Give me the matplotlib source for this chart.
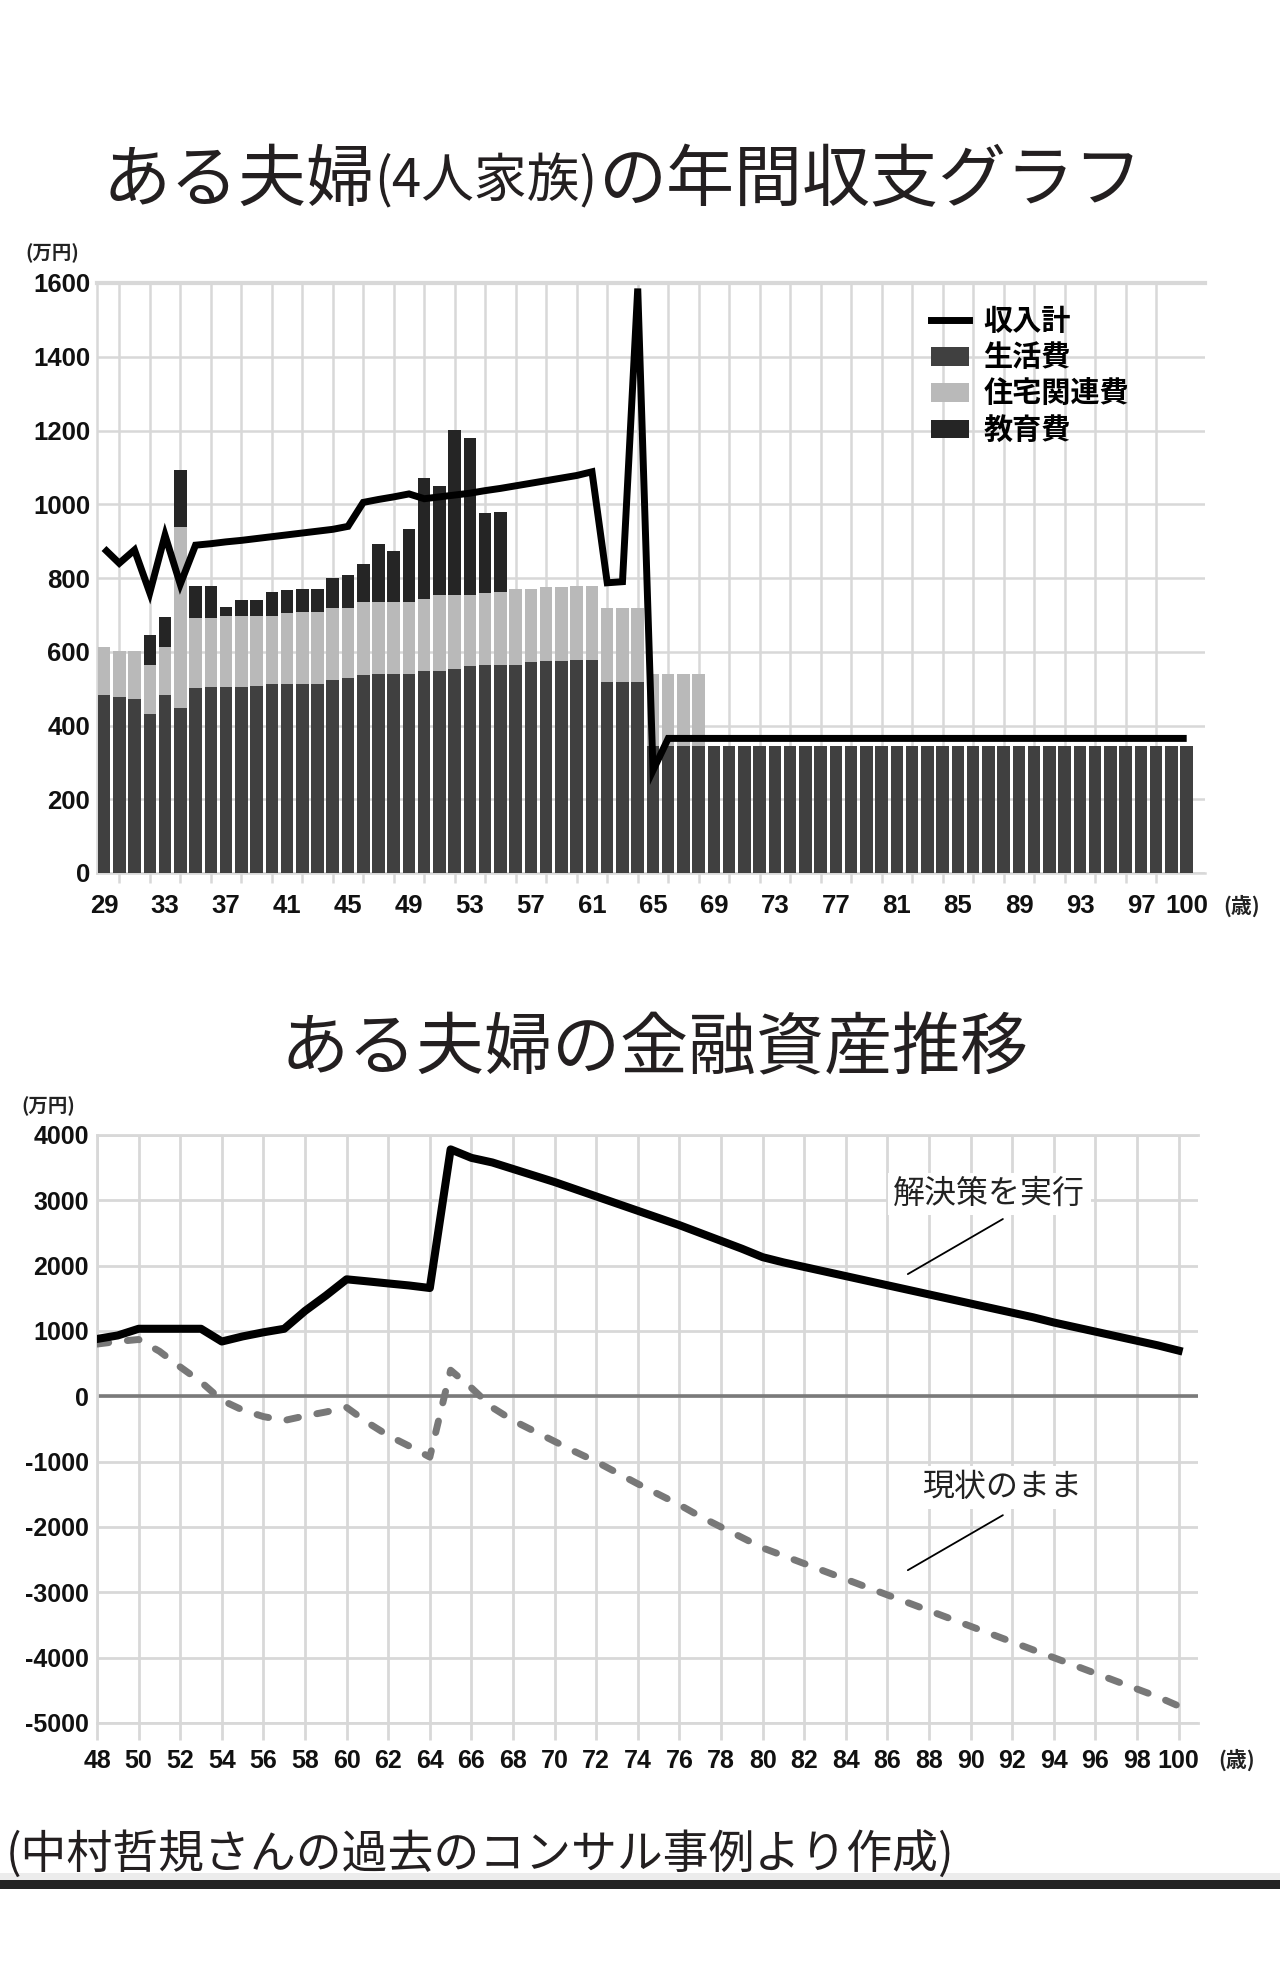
import matplotlib
matplotlib.use("Agg")
import matplotlib.pyplot as plt
import numpy as np
from matplotlib.patches import Patch, Rectangle
from matplotlib.lines import Line2D

plt.rcParams["axes.unicode_minus"] = False

# ---------------- data ----------------
ages = list(range(29, 101))
living = [484, 477, 471, 432, 484, 448, 502, 505, 505, 505,
          508, 513, 513, 513, 513, 523, 529, 537, 541, 541,
          541, 547, 549, 554, 562, 564, 564, 564, 571, 574,
          574, 577, 577, 517, 517, 517,
          345, 345, 345, 345, 345, 345, 345, 345, 345, 345,
          345, 345, 345, 345, 345, 345, 345, 345, 345, 345,
          345, 345, 345, 345, 345, 345, 345, 345, 345, 345,
          345, 345, 345, 345, 345, 345]
housing = [130, 124, 130, 131, 130, 489, 190, 187, 191, 191,
           188, 185, 191, 195, 195, 197, 191, 198, 194, 194,
           194, 196, 204, 199, 191, 194, 198, 207, 200, 201,
           201, 200, 200, 203, 203, 203,
           196, 196, 196, 196, 0, 0, 0, 0, 0, 0,
           0, 0, 0, 0, 0, 0, 0, 0, 0, 0,
           0, 0, 0, 0, 0, 0, 0, 0, 0, 0,
           0, 0, 0, 0, 0, 0]
education = [0, 0, 0, 83, 81, 155, 87, 87, 25, 45,
             45, 64, 63, 63, 63, 81, 87, 102, 157, 139,
             197, 327, 296, 448, 426, 219, 218, 0, 0, 0,
             0, 0, 0, 0, 0, 0,
             0, 0, 0, 0, 0, 0, 0, 0, 0, 0,
             0, 0, 0, 0, 0, 0, 0, 0, 0, 0,
             0, 0, 0, 0, 0, 0, 0, 0, 0, 0,
             0, 0, 0, 0, 0, 0]
income = [880, 840, 876, 760, 916, 783, 889, 893, 898, 902,
          907, 912, 917, 922, 927, 932, 940, 1005, 1013, 1020,
          1028, 1015, 1020, 1025, 1030, 1037, 1043, 1050, 1057, 1064,
          1071, 1078, 1088, 787, 790, 1585,
          278, 365, 365, 365, 365, 365, 365, 365, 365, 365,
          365, 365, 365, 365, 365, 365, 365, 365, 365, 365,
          365, 365, 365, 365, 365, 365, 365, 365, 365, 365,
          365, 365, 365, 365, 365, 365]
top_xticks = [29, 33, 37, 41, 45, 49, 53, 57, 61, 65, 69, 73, 77, 81, 85, 89, 93, 97, 100]
top_yticks = [0, 200, 400, 600, 800, 1000, 1200, 1400, 1600]
legend_labels = ["収入計", "生活費", "住宅関連費", "教育費"]

asset_ages = list(range(48, 101))
solution = [878, 932, 1034, 1034, 1034, 1034, 839, 917, 980, 1034,
            1307, 1541, 1791, 1760, 1728, 1697, 1658, 3780, 3650, 3580,
            3480, 3380, 3280, 3170, 3060, 2950, 2840, 2730, 2620, 2500,
            2380, 2260, 2130, 2050, 1980, 1910, 1840, 1770, 1700, 1630,
            1560, 1490, 1420, 1350, 1280, 1210, 1130, 1060, 990, 920,
            850, 780, 700]
status_quo = [800, 840, 870, 690, 450, 220, -60, -210, -310, -370,
              -300, -240, -170, -400, -600, -760, -930, 400, 130, -170,
              -370, -530, -690, -850, -1000, -1170, -1340, -1500, -1660, -1840,
              -2000, -2160, -2320, -2440, -2560, -2680, -2800, -2920, -3040, -3160,
              -3280, -3400, -3520, -3640, -3760, -3880, -4000, -4120, -4240, -4360,
              -4480, -4600, -4740]
bottom_xticks = list(range(48, 101, 2))
bottom_yticks = [-5000, -4000, -3000, -2000, -1000, 0, 1000, 2000, 3000, 4000]

title1_parts = ["ある夫婦", "(4人家族)", "の年間収支グラフ"]
title2 = "ある夫婦の金融資産推移"
footer = "(中村哲規さんの過去のコンサル事例より作成)"
unit_label = "(万円)"
age_label = "(歳)"
label_solution = "解決策を実行"
label_status = "現状のまま"

# ---------------- style ----------------
W, H = 1280, 1980
DPI = 100
CJK = ["Noto Sans CJK JP", "DejaVu Sans"]
NUM = ["Liberation Sans", "DejaVu Sans"]
GRID = "#d8d8d8"
C_LIV = "#404040"
C_HOU = "#b9b9b9"
C_EDU = "#252525"

def fx(x):
    return x / W

def fy(y):
    return 1 - y / H

fig = plt.figure(figsize=(W / DPI, H / DPI), dpi=DPI, facecolor="white")

# ---------------- top chart ----------------
ax1 = fig.add_axes([fx(97), fy(873), (1205 - 97) / W, (873 - 283) / H])
ages_a = np.array(ages)
liv = np.array(living)
hou = np.array(housing)
edu = np.array(education)
bw = 0.82
ax1.bar(ages_a, liv, width=bw, color=C_LIV, zorder=3, linewidth=0)
ax1.bar(ages_a, hou, width=bw, bottom=liv, color=C_HOU, zorder=3, linewidth=0)
ax1.bar(ages_a, edu, width=bw, bottom=liv + hou, color=C_EDU, zorder=3, linewidth=0)
ax1.plot(ages_a, income, color="black", lw=5.0, zorder=5, solid_joinstyle="miter",
         solid_capstyle="butt")
ax1.set_xlim(28.54, 101.2)
ax1.set_ylim(0, 1600)
ax1.set_yticks(top_yticks)
ax1.set_xticks(top_xticks)
ax1.set_xticks(list(range(30, 101, 2)), minor=True)
ax1.grid(True, axis="y", which="major", color=GRID, lw=1.8, zorder=0)
ax1.grid(True, axis="x", which="minor", color=GRID, lw=1.8, zorder=0)
ax1.tick_params(axis="x", which="major", length=0, pad=15)
ax1.tick_params(axis="x", which="minor", length=7, color=GRID, width=1.8)
ax1.tick_params(axis="y", which="major", length=0, pad=5)
for lab in ax1.get_xticklabels() + ax1.get_yticklabels():
    lab.set_family(NUM)
    lab.set_fontweight("bold")
    lab.set_fontsize(18.5)
    lab.set_color("#111111")
ax1.spines["right"].set_visible(False)
for side in ["left", "top", "bottom"]:
    ax1.spines[side].set_color(GRID)
    ax1.spines[side].set_linewidth(1.8)
ax1.spines["top"].set_linewidth(3)

handles = [Line2D([0], [0], color="black", lw=5.0),
           Patch(facecolor=C_LIV, edgecolor="none"),
           Patch(facecolor=C_HOU, edgecolor="none"),
           Patch(facecolor=C_EDU, edgecolor="none")]
leg = ax1.legend(handles, legend_labels, loc="upper left",
                 bbox_to_anchor=(fx(931), fy(306)), bbox_transform=fig.transFigure,
                 frameon=False, borderpad=0, borderaxespad=0,
                 handlelength=1.3, handleheight=0.62, handletextpad=0.5,
                 labelspacing=0.22, prop={"family": CJK, "size": 21, "weight": "bold"})
leg.set_zorder(10)

fig.text(fx(52), fy(253), unit_label, family=CJK, fontsize=14, fontweight="bold",
         ha="center", va="center", color="#222222")
fig.text(fx(1242), fy(906), age_label, family=CJK, fontsize=15, fontweight="bold",
         ha="center", va="center", color="#222222")

# ---------------- bottom chart ----------------
ax2 = fig.add_axes([fx(97), fy(1723), (1198 - 97) / W, (1723 - 1135) / H])
ax2.plot(asset_ages, solution, color="black", lw=5.8, zorder=5, solid_joinstyle="round")
ax2.plot(asset_ages, status_quo, color="#787878", lw=5.0, zorder=4,
         linestyle=(0, (1.7, 2.7)), dash_capstyle="round")
ax2.axhline(0, color="#7a7a7a", lw=2.6, zorder=2)
ax2.set_xlim(48, 100.93)
ax2.set_ylim(-5000, 4000)
ax2.set_xticks(bottom_xticks)
ax2.set_yticks(bottom_yticks)
ax2.grid(True, color=GRID, lw=2.0, zorder=0)
ax2.tick_params(axis="x", length=12, color=GRID, width=2.0, pad=7)
ax2.tick_params(axis="y", length=0, pad=6)
for lab in ax2.get_xticklabels() + ax2.get_yticklabels():
    lab.set_family(NUM)
    lab.set_fontweight("bold")
    lab.set_fontsize(18)
    lab.set_color("#111111")
ax2.spines["right"].set_visible(False)
for side in ["left", "top", "bottom"]:
    ax2.spines[side].set_color(GRID)
    ax2.spines[side].set_linewidth(2.0)

ax2.annotate("", xy=(86.98, 1871), xytext=(91.55, 2714), textcoords="data",
             arrowprops=dict(arrowstyle="-", color="black", lw=1.3,
                             shrinkA=0, shrinkB=0))
ax2.text(90.9, 3097, label_solution, family=CJK, fontsize=23, ha="center",
         va="center", color="#222222", zorder=6,
         bbox=dict(facecolor="white", edgecolor="none", pad=4))
ax2.annotate("", xy=(86.98, -2661), xytext=(91.55, -1819), textcoords="data",
             arrowprops=dict(arrowstyle="-", color="black", lw=1.3,
                             shrinkA=0, shrinkB=0))
ax2.text(91.5, -1390, label_status, family=CJK, fontsize=23, ha="center",
         va="center", color="#222222", zorder=6,
         bbox=dict(facecolor="white", edgecolor="none", pad=4))

fig.text(fx(48), fy(1106), unit_label, family=CJK, fontsize=14, fontweight="bold",
         ha="center", va="center", color="#222222")
fig.text(fx(1237), fy(1760), age_label, family=CJK, fontsize=15, fontweight="bold",
         ha="center", va="center", color="#222222")

# ---------------- titles ----------------
sizes = [49, 38, 49]
pieces = [fig.text(0, fy(182), s, family=CJK, fontsize=fs, ha="left", va="center",
                   color="#231f20") for s, fs in zip(title1_parts, sizes)]
fig.canvas.draw()
rend = fig.canvas.get_renderer()
widths = [p.get_window_extent(rend).width for p in pieces]
x0 = 622 - sum(widths) / 2
for p, w in zip(pieces, widths):
    p.set_x(fx(x0))
    x0 += w

fig.text(fx(655), fy(1050), title2, family=CJK, fontsize=49, ha="center", va="center",
         color="#231f20")
fig.text(fx(6), fy(1855), footer, family=CJK, fontsize=33, ha="left", va="center",
         color="#231f20")

# footer band
fig.patches.append(Rectangle((0, fy(1880)), 1, (1880 - 1873) / H, transform=fig.transFigure,
                             facecolor="#ececec", edgecolor="none", zorder=0))
fig.patches.append(Rectangle((0, fy(1889)), 1, (1889 - 1880) / H, transform=fig.transFigure,
                             facecolor="#222222", edgecolor="none", zorder=0))

fig.savefig("out.png", dpi=DPI, facecolor="white")
